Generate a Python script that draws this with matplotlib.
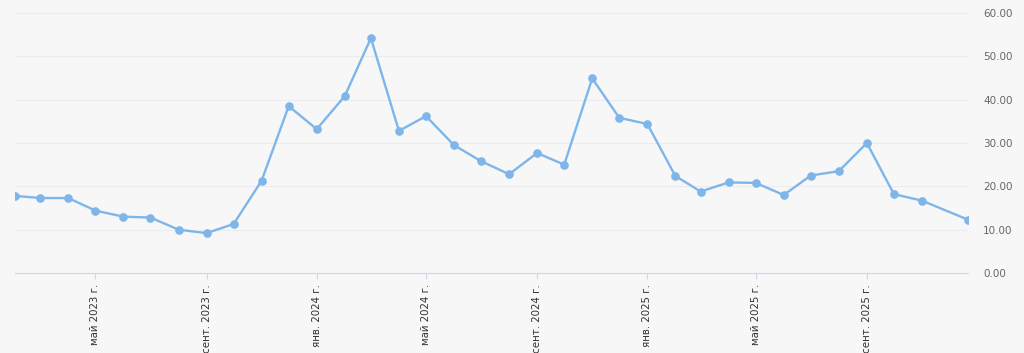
import numpy as np
import pandas as pd
import matplotlib
matplotlib.use('Agg')
import matplotlib.pyplot as plt
import matplotlib.dates as mdates

# monthly points, Feb 2023 .. Nov 2025, plus a last point in late Dec 2025
dates = list(pd.date_range('2023-02-01', '2025-11-01', freq='MS')) + [pd.Timestamp('2025-12-22')]
values = [17.8, 17.3, 17.3, 14.4, 13.0, 12.8, 10.0, 9.2, 11.3, 21.3,
          38.5, 33.2, 40.8, 54.2, 32.8, 36.2, 29.5, 25.8, 22.8, 27.7,
          25.0, 44.9, 35.8, 34.4, 22.4, 18.8, 20.9, 20.8, 18.0, 22.5,
          23.5, 30.0, 18.2, 16.7, 12.3]
yticks = [0, 10, 20, 30, 40, 50, 60]
month_names = {1: 'янв.', 5: 'май', 9: 'сент.'}

bg = '#f7f7f8'
fig = plt.figure(figsize=(10.24, 3.53), dpi=100, facecolor=bg)
ax = fig.add_axes([15/1024, 1-273/353, (968-15)/1024, 260/353], facecolor=bg)

ax.plot(dates, values, color='#7eb6ea', lw=1.7, marker='o', ms=5.2, zorder=3)

ax.set_xlim(dates[0], dates[-1])
ax.set_ylim(0, 60)
ax.set_yticks(yticks)
ax.yaxis.tick_right()
ax.set_yticklabels(['%.2f' % v for v in yticks])
ax.tick_params(axis='y', length=0, pad=11, labelsize=7.5, labelcolor='#666666')
ax.grid(axis='y', color='#ececee', lw=0.8)

ax.xaxis.set_major_locator(mdates.MonthLocator(bymonth=[1, 5, 9]))
ax.xaxis.set_major_formatter(plt.FuncFormatter(
    lambda x, p: '%s %d г.' % (month_names[mdates.num2date(x).month], mdates.num2date(x).year)))
ax.tick_params(axis='x', length=4, color='#cdd3f0', labelsize=7.4, labelcolor='#333333',
               labelrotation=90, pad=4)

for s in ['top', 'right', 'left']:
    ax.spines[s].set_visible(False)
ax.spines['bottom'].set_color('#cdd3f0')

fig.savefig('out.png', dpi=100, facecolor=bg)
